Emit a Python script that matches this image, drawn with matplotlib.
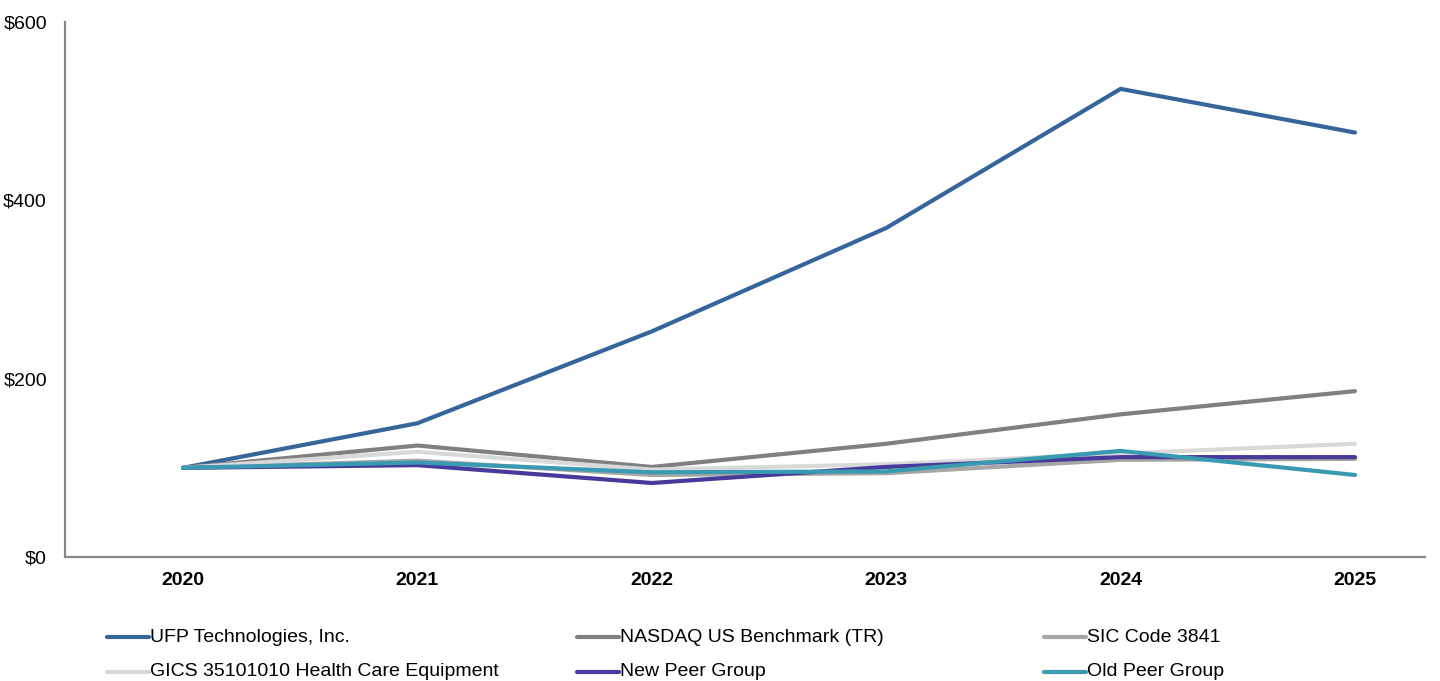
import matplotlib
matplotlib.use("Agg")
import matplotlib.pyplot as plt
from matplotlib.lines import Line2D

plt.rcParams["font.family"] = ["Liberation Sans", "DejaVu Sans"]

years = [2020, 2021, 2022, 2023, 2024, 2025]
ufp = [100, 150, 253, 369, 525, 476]
nasdaq = [100, 125, 101, 127, 160, 186]
sic = [100, 108, 92, 94, 109, 110]
gics = [100, 118, 98, 104, 116, 127]
new_peer = [100, 103, 83, 101, 112, 112]
old_peer = [100, 106, 95, 96, 119, 92]

labels = ["UFP Technologies, Inc.", "NASDAQ US Benchmark (TR)", "SIC Code 3841",
          "GICS 35101010 Health Care Equipment", "New Peer Group", "Old Peer Group"]
colors = ["#35659A", "#808080", "#A6A6A6", "#D9D9D9", "#473A9A", "#3A9AB2"]
series = [ufp, nasdaq, sic, gics, new_peer, old_peer]

fig = plt.figure(figsize=(14.4, 6.81), dpi=100)
ax = fig.add_axes([65 / 1440, 1 - 557 / 681, (1425 - 65) / 1440, (557 - 22) / 681])

for vals, c, lab in zip(series, colors, labels):
    ax.plot(years, vals, color=c, lw=3, label=lab, solid_capstyle="round")

ax.set_xlim(2020 - 118 / 234.4, 2025 + 70 / 234.4)
ax.set_ylim(0, 600)
ax.set_yticks([0, 200, 400, 600])
ax.set_yticklabels(["$0", "$200", "$400", "$600"], fontsize=14)
ax.set_xticks(years)
ax.set_xticklabels([str(y) for y in years], fontsize=14, fontweight="bold")
ax.tick_params(length=0)
ax.tick_params(axis="x", pad=11)
ax.tick_params(axis="y", pad=13)
for s in ["top", "right"]:
    ax.spines[s].set_visible(False)
for s in ["left", "bottom"]:
    ax.spines[s].set_color("#898989")
    ax.spines[s].set_linewidth(1.6)

# legend, laid out by hand in three columns
col_x = [107, 577, 1044]
row_y = [637, 672]
for i, (c, lab) in enumerate(zip(colors, labels)):
    x0 = col_x[i % 3]
    y0 = row_y[i // 3]
    fy = 1 - y0 / 681
    fig.add_artist(Line2D([x0 / 1440, (x0 + 42) / 1440], [fy, fy], color=c, lw=3,
                          solid_capstyle="round", transform=fig.transFigure))
    fig.text((x0 + 43) / 1440, fy, lab, fontsize=14, va="center", ha="left")

fig.savefig("out.png", dpi=100, facecolor="white")
